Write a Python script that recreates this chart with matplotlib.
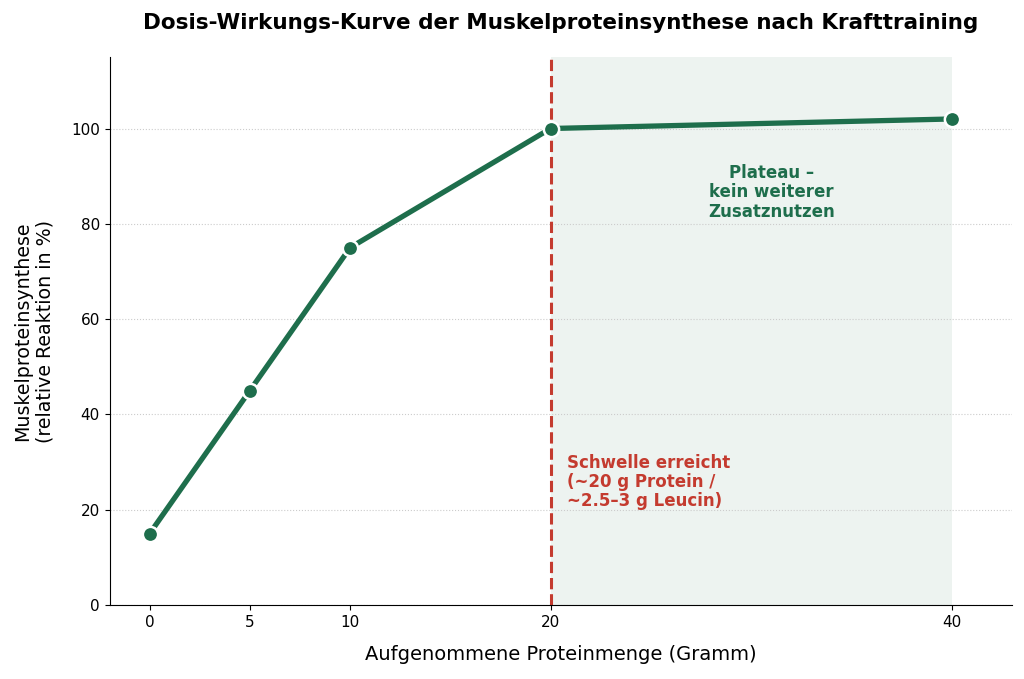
import matplotlib
matplotlib.use('Agg')
import matplotlib.pyplot as plt

plt.rcParams['font.family'] = ['DejaVu Sans']

# Daten
protein_g = [0, 5, 10, 20, 40]
mps_response = [15, 45, 75, 100, 102]
x_ticks = [0, 5, 10, 20, 40]
y_ticks = [0, 20, 40, 60, 80, 100]
threshold = 20

green = '#1e6e4c'
red = '#c43b2f'

fig = plt.figure(figsize=(10.24, 6.79), dpi=100)
ax = fig.add_axes([0.107, 0.109, 0.881, 0.807])

ax.axvspan(threshold, 40, color=green, alpha=0.08, lw=0, zorder=0)
ax.axvline(threshold, color=red, linestyle='--', linewidth=2.2, zorder=2)
ax.plot(protein_g, mps_response, color=green, linewidth=3.8, marker='o',
        markersize=11, markerfacecolor=green, markeredgecolor='white',
        markeredgewidth=1.8, zorder=3)

ax.text(31, 86.6, 'Plateau –\nkein weiterer\nZusatznutzen', color=green,
        fontsize=12, fontweight='bold', ha='center', va='center', linespacing=1.1)
ax.text(20.8, 25.8, 'Schwelle erreicht\n(~20 g Protein /\n~2.5–3 g Leucin)', color=red,
        fontsize=12, fontweight='bold', ha='left', va='center', linespacing=1.05)

ax.set_xlim(-2, 43)
ax.set_ylim(0, 115)
ax.set_xticks(x_ticks)
ax.set_yticks(y_ticks)
ax.tick_params(labelsize=11)
ax.grid(axis='y', linestyle=':', color='#cccccc', linewidth=0.8)
ax.set_axisbelow(True)
for s in ['top', 'right']:
    ax.spines[s].set_visible(False)

ax.set_xlabel('Aufgenommene Proteinmenge (Gramm)', fontsize=14, labelpad=11)
ax.set_ylabel('Muskelproteinsynthese\n(relative Reaktion in %)', fontsize=13.7, labelpad=12)
ax.set_title('Dosis-Wirkungs-Kurve der Muskelproteinsynthese nach Krafttraining',
             fontsize=15.5, fontweight='bold', pad=20)

fig.savefig('out.png', dpi=100)
